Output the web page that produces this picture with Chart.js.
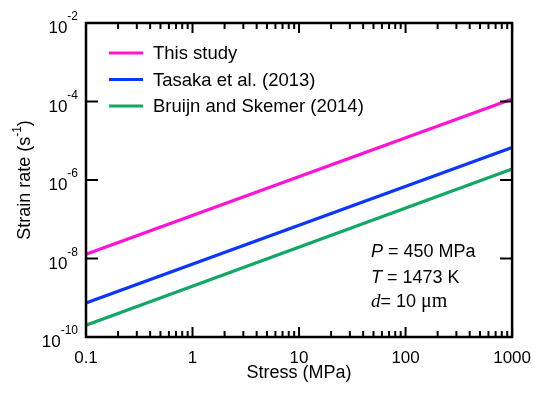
<!DOCTYPE html>
<html>
<head>
<meta charset="utf-8">
<script src="https://cdn.jsdelivr.net/npm/chart.js@4"></script>
<style>
  body { margin: 0; background: #fff; }
  #wrap { width: 542px; height: 394px; }
</style>
</head>
<body>
<div id="wrap"><canvas id="chart" width="542" height="394"></canvas></div>
<script>
// stress values (MPa) at the ends of each line
const stress = [0.1, 1000];

// strain rates (s^-1)
const thisStudy = [1.29e-8, 1.15e-4];
const tasaka = [7.4e-10, 6.7e-6];
const bruijn = [2.0e-10, 1.9e-6];

const seriesNames = ["This study", "Tasaka et al. (2013)", "Bruijn and Skemer (2014)"];
const seriesColors = ["#ff14d6", "#0a37ff", "#10a862"];

// axis ticks
const xMajor = [0.1, 1, 10, 100, 1000];
const xTickLabels = ["0.1", "1", "10", "100", "1000"];
const yMajor = [1e-10, 1e-8, 1e-6, 1e-4, 1e-2];
const yExponents = ["-10", "-8", "-6", "-4", "-2"];

const FONT = "'Liberation Sans', Arial, sans-serif";

// minor ticks 2..9 in each decade
const xMinor = [];
[0.1, 1, 10, 100].forEach((d) => {
  for (let k = 2; k <= 9; k++) xMinor.push(d * k);
});

function points(ys) {
  return stress.map((x, i) => ({ x: x, y: ys[i] }));
}

// frame, inward ticks, y labels, legend and notes
const decorations = {
  id: "decorations",
  afterDatasetsDraw(chart) {
    const ctx = chart.ctx;
    const a = chart.chartArea;
    const xs = chart.scales.x;
    const ys = chart.scales.y;
    ctx.save();
    ctx.strokeStyle = "#000";
    ctx.fillStyle = "#000";

    // ticks
    ctx.lineWidth = 2;
    ctx.beginPath();
    xMajor.forEach((v) => {
      const px = xs.getPixelForValue(v);
      ctx.moveTo(px, a.bottom); ctx.lineTo(px, a.bottom - 10);
      ctx.moveTo(px, a.top); ctx.lineTo(px, a.top + 10);
    });
    ctx.stroke();
    ctx.beginPath();
    xMinor.forEach((v) => {
      const px = xs.getPixelForValue(v);
      ctx.moveTo(px, a.bottom); ctx.lineTo(px, a.bottom - 6);
      ctx.moveTo(px, a.top); ctx.lineTo(px, a.top + 6);
    });
    ctx.stroke();
    ctx.beginPath();
    yMajor.forEach((v) => {
      const py = ys.getPixelForValue(v);
      ctx.moveTo(a.left, py); ctx.lineTo(a.left + 12, py);
      ctx.moveTo(a.right, py); ctx.lineTo(a.right - 12, py);
    });
    ctx.stroke();

    // frame
    ctx.lineWidth = 2.5;
    ctx.strokeRect(a.left, a.top, a.right - a.left, a.bottom - a.top);

    // y tick labels 10^n
    ctx.textBaseline = "alphabetic";
    ctx.textAlign = "left";
    yMajor.forEach((v, i) => {
      const py = ys.getPixelForValue(v);
      ctx.font = "12px " + FONT;
      const supW = ctx.measureText(yExponents[i]).width;
      ctx.font = "17px " + FONT;
      const baseW = ctx.measureText("10").width;
      const right = a.left - 8;
      ctx.fillText("10", right - supW - baseW, py + 10);
      ctx.font = "12px " + FONT;
      ctx.fillText(yExponents[i], right - supW, py - 3);
    });

    // y title
    ctx.save();
    ctx.translate(24, (a.top + a.bottom) / 2);
    ctx.rotate(-Math.PI / 2);
    ctx.font = "18px " + FONT;
    const t1 = "Strain rate (s";
    const t3 = ")";
    const w1 = ctx.measureText(t1).width;
    const w3 = ctx.measureText(t3).width;
    ctx.font = "12px " + FONT;
    const w2 = ctx.measureText("-1").width;
    let sx = -(w1 + w2 + w3) / 2;
    ctx.font = "18px " + FONT;
    ctx.fillText(t1, sx, 6);
    ctx.font = "12px " + FONT;
    ctx.fillText("-1", sx + w1, -3);
    ctx.font = "18px " + FONT;
    ctx.fillText(t3, sx + w1 + w2, 6);
    ctx.restore();

    // legend
    const lx = a.left + 23;
    seriesNames.forEach((name, i) => {
      const ly = a.top + 30 + i * 26.5;
      ctx.strokeStyle = seriesColors[i];
      ctx.lineWidth = 3;
      ctx.beginPath();
      ctx.moveTo(lx, ly); ctx.lineTo(lx + 34, ly);
      ctx.stroke();
      ctx.font = "18.5px " + FONT;
      ctx.fillStyle = "#000";
      ctx.fillText(name, lx + 44, ly + 6);
    });

    // conditions
    const nx = a.left + 285;
    let ny = a.top + 234;
    function run(parts, x, y) {
      parts.forEach((p) => {
        ctx.font = p[1];
        ctx.fillText(p[0], x, y);
        x += ctx.measureText(p[0]).width;
      });
    }
    run([["P", "italic 18px " + FONT], [" = 450 MPa", "18px " + FONT]], nx, ny);
    run([["T", "italic 18px " + FONT], [" = 1473 K", "18px " + FONT]], nx, ny + 26);
    run([["d", "italic 19px 'Liberation Serif', serif"], ["= 10 ", "18px " + FONT], ["\u03bcm", "20px 'Liberation Serif', serif"]], nx, ny + 50);

    ctx.restore();
  },
};

new Chart(document.getElementById("chart"), {
  type: "line",
  data: {
    datasets: [
      { label: seriesNames[0], data: points(thisStudy), borderColor: seriesColors[0] },
      { label: seriesNames[1], data: points(tasaka), borderColor: seriesColors[1] },
      { label: seriesNames[2], data: points(bruijn), borderColor: seriesColors[2] },
    ],
  },
  options: {
    responsive: false,
    animation: false,
    elements: {
      point: { radius: 0 },
      line: { borderWidth: 3.2, tension: 0 },
    },
    layout: { padding: { top: 23, right: 21, left: 0, bottom: 0 } },
    plugins: {
      legend: { display: false },
      tooltip: { enabled: false },
    },
    scales: {
      x: {
        type: "logarithmic",
        min: 0.1,
        max: 1000,
        grid: { display: false, drawTicks: false },
        border: { display: false },
        afterBuildTicks: (s) => {
          s.ticks = xMajor.map((v) => ({ value: v }));
        },
        afterFit: (s) => {
          s.height = 57;
        },
        ticks: {
          autoSkip: false,
          maxRotation: 0,
          padding: 11,
          color: "#000",
          font: { family: FONT, size: 17 },
          callback: (v) => {
            const i = xMajor.indexOf(v);
            return i >= 0 ? xTickLabels[i] : "";
          },
        },
        title: {
          display: true,
          text: "Stress (MPa)",
          color: "#000",
          font: { family: FONT, size: 18 },
          padding: { top: 0, bottom: 10 },
        },
      },
      y: {
        type: "logarithmic",
        min: 1e-10,
        max: 1e-2,
        grid: { display: false, drawTicks: false },
        border: { display: false },
        ticks: { display: false },
        afterFit: (s) => {
          s.width = 86;
        },
      },
    },
  },
  plugins: [decorations],
});
</script>
</body>
</html>
